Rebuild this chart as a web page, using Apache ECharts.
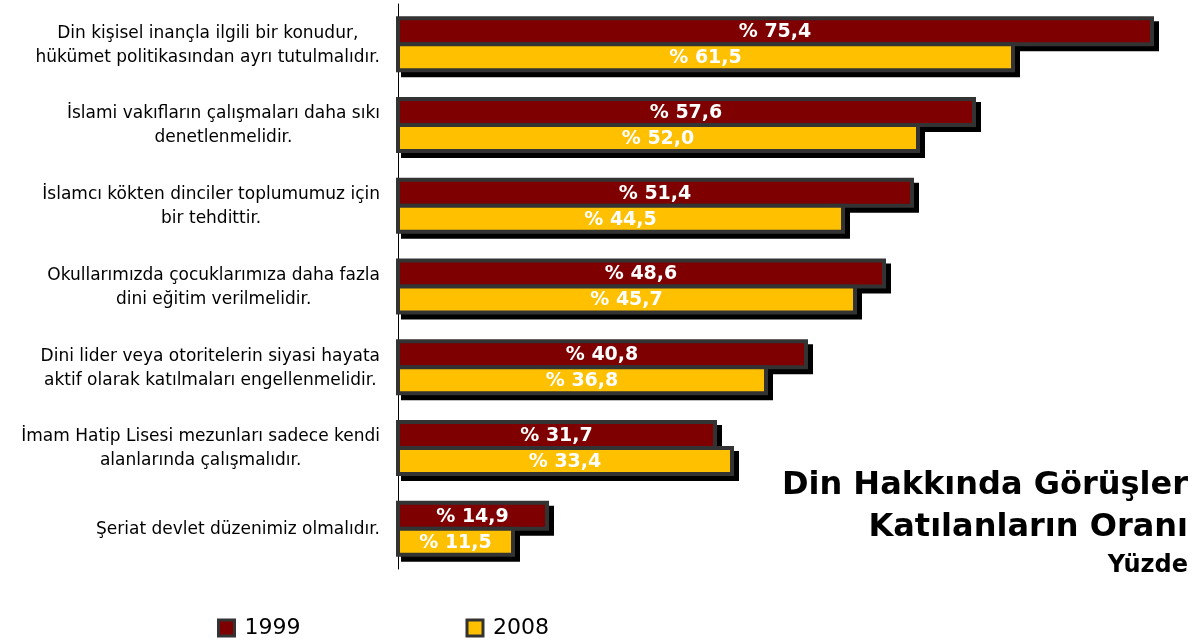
<!DOCTYPE html>
<html>
<head>
<meta charset="utf-8">
<script src="https://cdn.jsdelivr.net/npm/echarts@6/dist/echarts.min.js"></script>
<style>
  html, body { margin: 0; padding: 0; background: #fff; }
  #chart { width: 1200px; height: 643px; }
</style>
</head>
<body>
<div id="chart"></div>
<script>
// statements, top to bottom
const categories = [
  'Din kişisel inançla ilgili bir konudur,\nhükümet politikasından ayrı tutulmalıdır.',
  'İslami vakıfların çalışmaları daha sıkı\ndenetlenmelidir.',
  'İslamcı kökten dinciler toplumumuz için\nbir tehdittir.',
  'Okullarımızda çocuklarımıza daha fazla\ndini eğitim verilmelidir.',
  'Dini lider veya otoritelerin siyasi hayata\naktif olarak katılmaları engellenmelidir.',
  'İmam Hatip Lisesi mezunları sadece kendi\nalanlarında çalışmalıdır.',
  'Şeriat devlet düzenimiz olmalıdır.'
]
const values1999 = [75.4, 57.6, 51.4, 48.6, 40.8, 31.7, 14.9]
const values2008 = [61.5, 52.0, 44.5, 45.7, 36.8, 33.4, 11.5]

const BAR_H = 26
const BORDER = 2

const chart = echarts.init(document.getElementById('chart'))

// bar with gray frame and hard black drop shadow
function renderBar(params, api) {
  const cat = api.value(1)
  const v = api.value(0)
  const p0 = api.coord([0, cat])
  const p1 = api.coord([v, cat])
  const y = p0[1] + (params.seriesIndex === 0 ? -BAR_H : 0)
  const x = p0[0]
  const w = p1[0] - p0[0]
  const color = api.visual('color')
  return {
    type: 'group',
    children: [
      { type: 'rect', shape: { x: x - BORDER + 5, y: y - BORDER + 5, width: w + BORDER * 2, height: BAR_H + BORDER * 2 }, style: { fill: '#000' } },
      { type: 'rect', shape: { x: x - BORDER, y: y - BORDER, width: w + BORDER * 2, height: BAR_H + BORDER * 2 }, style: { fill: '#333' } },
      { type: 'rect', shape: { x: x + BORDER, y: y + BORDER, width: w - BORDER * 2, height: BAR_H - BORDER * 2 }, style: { fill: color } },
      {
        type: 'text',
        style: {
          x: x + w / 2, y: y + BAR_H / 2 + 1,
          text: '% ' + v.toFixed(1).replace('.', ','),
          align: 'center', verticalAlign: 'middle',
          fill: '#fff', font: 'bold 19px "DejaVu Sans"',
        },
      },
    ],
  }
}

chart.setOption({
  animation: false,
  title: {
    text: 'Din Hakkında Görüşler\nKatılanların Oranı',
    subtext: 'Yüzde',
    left: 1183,
    top: 460,
    textAlign: 'right',
    itemGap: 0,
    textStyle: { fontFamily: 'DejaVu Sans', fontWeight: 'bold', fontSize: 32, color: '#000', lineHeight: 42 },
    subtextStyle: { fontFamily: 'DejaVu Sans', fontWeight: 'bold', fontSize: 24, color: '#000', lineHeight: 34 },
  },
  legend: {
    left: 212,
    top: 612,
    icon: 'rect',
    itemWidth: 16,
    itemHeight: 16,
    itemGap: 165,
    itemStyle: { borderColor: '#333', borderWidth: 3 },
    textStyle: { fontFamily: 'DejaVu Sans', fontSize: 22, color: '#000', padding: [0, 0, 0, 5] },
    data: ['1999', '2008'],
  },
  grid: { left: 398, right: 2, top: 4, bottom: 74 },
  xAxis: { type: 'value', min: 0, max: 80, show: false },
  yAxis: {
    type: 'category',
    inverse: true,
    data: categories,
    axisLine: { lineStyle: { color: '#000', width: 1 } },
    axisTick: { length: 5, lineStyle: { color: '#000' } },
    axisLabel: {
      margin: 18,
      formatter: (v) => v.split('\n').map((l) => '{c|' + l + '}').join('\n'),
      rich: {
        c: { align: 'center', fontFamily: 'DejaVu Sans', fontSize: 17, color: '#000', lineHeight: 24, padding: [2, 0, 0, 0] },
      },
    },
  },
  series: [
    {
      name: '1999',
      type: 'custom',
      renderItem: renderBar,
      encode: { x: 0, y: 1 },
      itemStyle: { color: '#7f0000' },
      data: values1999.map((v, i) => [v, i]),
    },
    {
      name: '2008',
      type: 'custom',
      renderItem: renderBar,
      encode: { x: 0, y: 1 },
      itemStyle: { color: '#ffc000' },
      data: values2008.map((v, i) => [v, i]),
    },
  ],
})
</script>
</body>
</html>
